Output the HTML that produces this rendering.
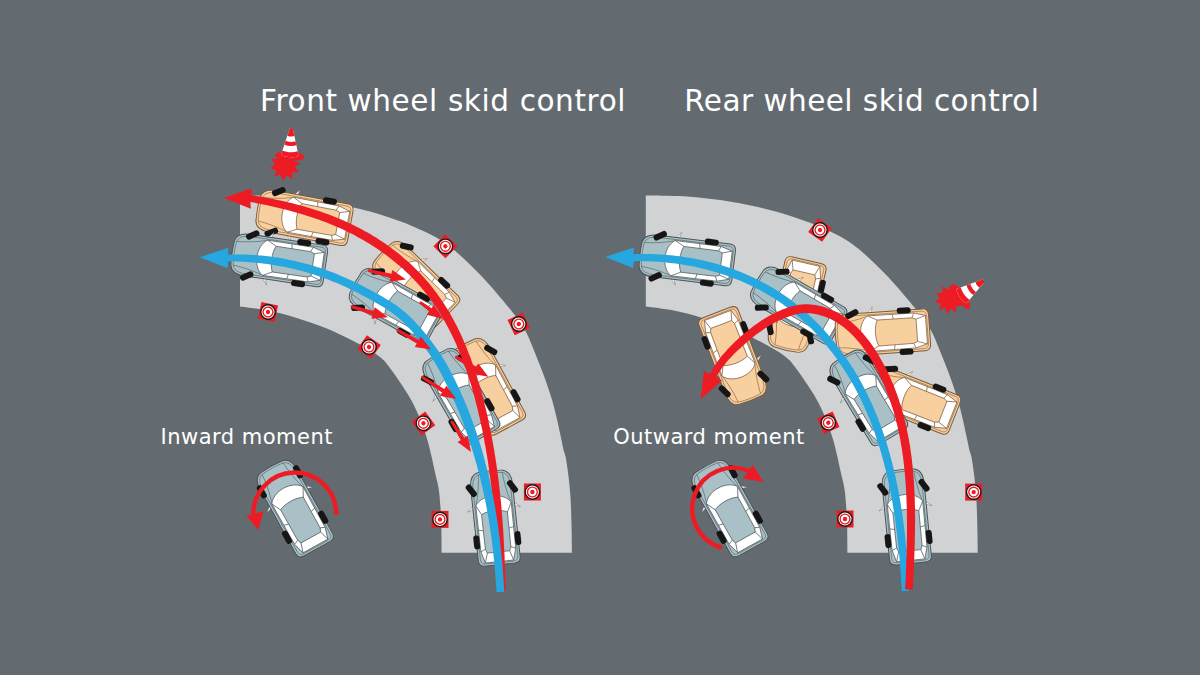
<!DOCTYPE html>
<html lang="en"><head><meta charset="utf-8"><title>Skid control</title>
<style>
html,body{margin:0;padding:0}
body{width:1200px;height:675px;background:#646b70;position:relative;overflow:hidden;font-family:"DejaVu Sans", "Liberation Sans", sans-serif;color:#fff}
svg{position:absolute;left:0;top:0}
.t{position:absolute;white-space:nowrap;line-height:1}
.h{font-size:29.5px}
.l{font-size:21px}
</style></head><body>
<svg width="1200" height="675" viewBox="0 0 1200 675"><path d="M240.0 195.4 C243.7 195.4 254.7 195.5 262.0 195.7 C269.3 195.9 276.0 196.1 284.0 196.7 C292.0 197.3 301.7 198.4 310.0 199.5 C318.3 200.6 325.7 201.7 334.0 203.3 C342.3 204.9 351.7 206.9 360.0 209.0 C368.3 211.1 375.2 212.9 384.0 215.8 C392.8 218.7 402.4 221.8 412.6 226.3 C422.8 230.8 434.1 235.3 445.0 243.0 C455.9 250.7 467.2 261.5 478.0 272.5 C488.8 283.5 502.2 299.4 510.0 309.0 C517.8 318.6 521.1 323.5 524.9 330.0 C528.7 336.5 530.4 341.9 532.9 347.8 C535.4 353.7 537.7 359.7 540.0 365.6 C542.3 371.5 544.5 377.4 546.6 383.3 C548.7 389.2 550.7 395.2 552.4 401.1 C554.1 407.0 555.5 413.0 556.9 418.9 C558.3 424.8 559.7 431.5 560.8 436.7 C561.9 441.9 562.8 446.5 563.6 450.0 C564.4 453.5 565.0 453.5 565.8 457.8 C566.6 462.1 567.7 469.7 568.4 475.6 C569.1 481.5 569.8 487.4 570.2 493.3 C570.7 499.2 570.9 505.2 571.1 511.1 C571.3 517.0 571.5 522.0 571.6 528.9 C571.8 535.8 571.9 548.8 572.0 552.8 L441.6 552.8 C441.6 548.2 441.5 532.9 441.3 525.0 C441.1 517.1 440.8 511.8 440.3 505.6 C439.8 499.4 439.5 493.7 438.5 487.8 C437.5 481.9 435.6 475.2 434.5 470.0 C433.4 464.8 432.8 461.9 431.6 456.7 C430.4 451.5 428.9 444.8 427.1 438.9 C425.3 433.0 423.3 427.0 420.9 421.1 C418.5 415.2 416.0 409.2 412.9 403.3 C409.8 397.4 406.0 391.5 402.2 385.6 C398.4 379.7 393.5 372.6 389.8 367.8 C386.1 363.0 385.0 360.9 380.0 357.0 C375.0 353.1 368.7 349.2 360.0 344.5 C351.3 339.8 338.8 333.5 328.0 329.0 C317.2 324.5 305.0 320.6 295.0 317.5 C285.0 314.4 277.2 312.3 268.0 310.5 C258.8 308.7 244.7 307.2 240.0 306.5Z" fill="#d1d2d4"/>
<path d="M645.8 195.4 C649.5 195.4 660.5 195.5 667.8 195.7 C675.1 195.9 681.8 196.1 689.8 196.7 C697.8 197.3 707.5 198.4 715.8 199.5 C724.1 200.6 731.5 201.7 739.8 203.3 C748.1 204.9 757.5 206.9 765.8 209.0 C774.1 211.1 781.0 212.9 789.8 215.8 C798.6 218.7 808.2 221.8 818.4 226.3 C828.6 230.8 839.9 235.3 850.8 243.0 C861.7 250.7 873.0 261.5 883.8 272.5 C894.6 283.5 908.0 299.4 915.8 309.0 C923.6 318.6 926.9 323.5 930.7 330.0 C934.5 336.5 936.2 341.9 938.7 347.8 C941.2 353.7 943.5 359.7 945.8 365.6 C948.1 371.5 950.3 377.4 952.4 383.3 C954.5 389.2 956.5 395.2 958.2 401.1 C959.9 407.0 961.3 413.0 962.7 418.9 C964.1 424.8 965.5 431.5 966.6 436.7 C967.7 441.9 968.6 446.5 969.4 450.0 C970.2 453.5 970.8 453.5 971.6 457.8 C972.4 462.1 973.5 469.7 974.2 475.6 C974.9 481.5 975.5 487.4 976.0 493.3 C976.5 499.2 976.7 505.2 976.9 511.1 C977.1 517.0 977.3 522.0 977.4 528.9 C977.6 535.8 977.7 548.8 977.8 552.8 L847.4 552.8 C847.4 548.2 847.3 532.9 847.1 525.0 C846.9 517.1 846.6 511.8 846.1 505.6 C845.6 499.4 845.3 493.7 844.3 487.8 C843.3 481.9 841.4 475.2 840.3 470.0 C839.1 464.8 838.6 461.9 837.4 456.7 C836.2 451.5 834.7 444.8 832.9 438.9 C831.1 433.0 829.1 427.0 826.7 421.1 C824.3 415.2 821.8 409.2 818.7 403.3 C815.6 397.4 811.9 391.5 808.0 385.6 C804.1 379.7 799.3 372.6 795.6 367.8 C791.9 363.0 790.8 360.9 785.8 357.0 C780.8 353.1 774.5 349.2 765.8 344.5 C757.1 339.8 744.6 333.5 733.8 329.0 C723.0 324.5 710.8 320.6 700.8 317.5 C690.8 314.4 683.0 312.3 673.8 310.5 C664.6 308.7 650.5 307.2 645.8 306.5Z" fill="#d1d2d4"/>
<g transform="translate(268.0 312.0) rotate(12.0)"><rect x="-8.5" y="-8.5" width="17" height="17" fill="#ec1c24"/><circle r="7.9" fill="#1a1a1a"/><circle r="6.5" fill="#fff"/><circle r="4.9" fill="none" stroke="#ec1c24" stroke-width="1.4"/><circle r="2.2" fill="#ec1c24"/></g>
<g transform="translate(369.0 347.0) rotate(35.0)"><rect x="-8.5" y="-8.5" width="17" height="17" fill="#ec1c24"/><circle r="7.9" fill="#1a1a1a"/><circle r="6.5" fill="#fff"/><circle r="4.9" fill="none" stroke="#ec1c24" stroke-width="1.4"/><circle r="2.2" fill="#ec1c24"/></g>
<g transform="translate(423.4 423.3) rotate(-36.0)"><rect x="-8.5" y="-8.5" width="17" height="17" fill="#ec1c24"/><circle r="7.9" fill="#1a1a1a"/><circle r="6.5" fill="#fff"/><circle r="4.9" fill="none" stroke="#ec1c24" stroke-width="1.4"/><circle r="2.2" fill="#ec1c24"/></g>
<g transform="translate(440.0 519.4) rotate(0.0)"><rect x="-8.5" y="-8.5" width="17" height="17" fill="#ec1c24"/><circle r="7.9" fill="#1a1a1a"/><circle r="6.5" fill="#fff"/><circle r="4.9" fill="none" stroke="#ec1c24" stroke-width="1.4"/><circle r="2.2" fill="#ec1c24"/></g>
<g transform="translate(445.4 246.3) rotate(45.0)"><rect x="-8.5" y="-8.5" width="17" height="17" fill="#ec1c24"/><circle r="7.9" fill="#1a1a1a"/><circle r="6.5" fill="#fff"/><circle r="4.9" fill="none" stroke="#ec1c24" stroke-width="1.4"/><circle r="2.2" fill="#ec1c24"/></g>
<g transform="translate(518.8 324.0) rotate(-25.0)"><rect x="-8.5" y="-8.5" width="17" height="17" fill="#ec1c24"/><circle r="7.9" fill="#1a1a1a"/><circle r="6.5" fill="#fff"/><circle r="4.9" fill="none" stroke="#ec1c24" stroke-width="1.4"/><circle r="2.2" fill="#ec1c24"/></g>
<g transform="translate(532.4 492.0) rotate(0.0)"><rect x="-8.5" y="-8.5" width="17" height="17" fill="#ec1c24"/><circle r="7.9" fill="#1a1a1a"/><circle r="6.5" fill="#fff"/><circle r="4.9" fill="none" stroke="#ec1c24" stroke-width="1.4"/><circle r="2.2" fill="#ec1c24"/></g>
<g transform="translate(820.0 230.0) rotate(35.0)"><rect x="-8.5" y="-8.5" width="17" height="17" fill="#ec1c24"/><circle r="7.9" fill="#1a1a1a"/><circle r="6.5" fill="#fff"/><circle r="4.9" fill="none" stroke="#ec1c24" stroke-width="1.4"/><circle r="2.2" fill="#ec1c24"/></g>
<g transform="translate(828.3 422.7) rotate(-24.0)"><rect x="-8.5" y="-8.5" width="17" height="17" fill="#ec1c24"/><circle r="7.9" fill="#1a1a1a"/><circle r="6.5" fill="#fff"/><circle r="4.9" fill="none" stroke="#ec1c24" stroke-width="1.4"/><circle r="2.2" fill="#ec1c24"/></g>
<g transform="translate(845.0 519.0) rotate(0.0)"><rect x="-8.5" y="-8.5" width="17" height="17" fill="#ec1c24"/><circle r="7.9" fill="#1a1a1a"/><circle r="6.5" fill="#fff"/><circle r="4.9" fill="none" stroke="#ec1c24" stroke-width="1.4"/><circle r="2.2" fill="#ec1c24"/></g>
<g transform="translate(973.7 492.1) rotate(0.0)"><rect x="-8.5" y="-8.5" width="17" height="17" fill="#ec1c24"/><circle r="7.9" fill="#1a1a1a"/><circle r="6.5" fill="#fff"/><circle r="4.9" fill="none" stroke="#ec1c24" stroke-width="1.4"/><circle r="2.2" fill="#ec1c24"/></g>
<polygon points="287.3,150.3 289.5,156.6 295.9,154.5 293.9,160.9 300.4,162.9 295.0,167.0 299.0,172.4 292.3,172.5 292.4,179.3 286.8,175.4 282.9,180.9 280.7,174.6 274.3,176.7 276.3,170.3 269.8,168.3 275.2,164.2 271.2,158.8 277.9,158.7 277.8,151.9 283.4,155.8" fill="#ed1c24"/>
<g transform="translate(289.8 155.3) rotate(3.2)"><ellipse cx="0" cy="0.8" rx="14.8" ry="4.6" fill="#ed1c24"/><path d="M-1.6 -26.5 L1.6 -26.5 L8.8 0 C5 2.6 -5 2.6 -8.8 0Z" fill="#fff"/><path d="M-1.6 -26.5 C-0.5 -27.3 0.5 -27.3 1.6 -26.5 L3.5 -19.5 C1.2 -18.6 -1.2 -18.6 -3.5 -19.5Z" fill="#ed1c24"/><path d="M-4.9 -14.3 C-2 -13.1 2 -13.1 4.9 -14.3 L6 -10.3 C2.5 -8.9 -2.5 -8.9 -6 -10.3Z" fill="#ed1c24"/><path d="M-7.6 -4.4 C-3 -2.6 3 -2.6 7.6 -4.4 L8.8 0 C5 2.6 -5 2.6 -8.8 0Z" fill="#ed1c24"/></g>
<polygon points="951.4,284.6 953.5,290.8 959.6,288.7 957.7,294.8 963.9,296.7 958.7,300.6 962.6,305.8 956.1,305.9 956.2,312.4 950.9,308.7 947.2,314.0 945.1,307.8 939.0,309.9 940.9,303.8 934.7,301.9 939.9,298.0 936.0,292.8 942.5,292.7 942.4,286.2 947.7,289.9" fill="#ed1c24"/>
<g transform="translate(961.5 296.1) rotate(55.0)"><ellipse cx="0" cy="0.8" rx="14.8" ry="4.6" fill="#ed1c24"/><path d="M-1.6 -26.5 L1.6 -26.5 L8.8 0 C5 2.6 -5 2.6 -8.8 0Z" fill="#fff"/><path d="M-1.6 -26.5 C-0.5 -27.3 0.5 -27.3 1.6 -26.5 L3.5 -19.5 C1.2 -18.6 -1.2 -18.6 -3.5 -19.5Z" fill="#ed1c24"/><path d="M-4.9 -14.3 C-2 -13.1 2 -13.1 4.9 -14.3 L6 -10.3 C2.5 -8.9 -2.5 -8.9 -6 -10.3Z" fill="#ed1c24"/><path d="M-7.6 -4.4 C-3 -2.6 3 -2.6 7.6 -4.4 L8.8 0 C5 2.6 -5 2.6 -8.8 0Z" fill="#ed1c24"/></g>
<g transform="translate(302.6 217.0) rotate(-79.5) scale(1.000)"><g transform="translate(0 48.50) scale(1 0.9843) translate(0 -50)"><path d="M-19.5 -12.5 L-26.5 -6.5 L-20 -8.5Z M19.5 -12.5 L26.5 -6.5 L20 -8.5Z" fill="#fff" stroke="#7a5a3a" stroke-width="0.4"/><path d="M-12.5 -45.2 C-18 -44 -21 -39 -21 -30 L-21 44 C-21 48 -18.5 50 -14.5 50 L14.5 50 C18.5 50 21 48 21 44 L21 -30 C21 -39 18 -44 12.5 -45.2 C4 -46.2 -4 -46.2 -12.5 -45.2Z" fill="#f8cf9f" stroke="#7a5a3a" stroke-width="1"/><path d="M-11.5 -43 C-16.5 -41.8 -18.8 -37.5 -18.8 -29.5 L-18.8 43 C-18.8 46.5 -17 47.9 -13.5 47.9 L13.5 47.9 C17 47.9 18.8 46.5 18.8 43 L18.8 -29.5 C18.8 -37.5 16.5 -41.8 11.5 -43 C4 -44 -4 -44 -11.5 -43Z" fill="none" stroke="#7a5a3a" stroke-width="0.55"/><path d="M-17.8 -12 C-11 -23 11 -23 17.8 -12 L17.5 35 L14.2 46.8 L-14.2 46.8 L-17.5 35Z" fill="#fff" stroke="#7a5a3a" stroke-width="0.7"/><path d="M-13 -2.5 C-6 -6 6 -6 13 -2.5 L12.8 33 L11.2 37 L-11.2 37 L-12.8 33Z" fill="#f8cf9f" stroke="#7a5a3a" stroke-width="0.7"/><path d="M-17.8 -12 L-13 -2.5 M17.8 -12 L13 -2.5 M-17.5 35 L-12.8 33 M17.5 35 L12.8 33 M-17.6 13 L-13 14 M17.6 13 L13 14 M-14.2 46.8 L-11.2 37 M14.2 46.8 L11.2 37" stroke="#7a5a3a" stroke-width="0.7" fill="none"/><path d="M-12 -43 C-12.5 -34 -14.5 -22 -17.3 -13 M12 -43 C12.5 -34 14.5 -22 17.3 -13" stroke="#7a5a3a" stroke-width="0.55" fill="none"/></g><rect x="-3" y="-7" width="6" height="14" rx="2.7" fill="#161616" transform="translate(-20.7 -28.0) rotate(-32.0)"/><rect x="-3" y="-7" width="6" height="14" rx="2.7" fill="#161616" transform="translate(20.7 -28.0) rotate(-32.0)"/><rect x="-3" y="-7" width="6" height="14" rx="2.7" fill="#161616" transform="translate(-20.7 24.0) rotate(0.0)"/><rect x="-3" y="-7" width="6" height="14" rx="2.7" fill="#161616" transform="translate(20.7 24.0) rotate(0.0)"/></g>
<g transform="translate(277.4 259.6) rotate(-81.5) scale(1.000)"><g transform="translate(0 48.50) scale(1 0.9843) translate(0 -50)"><path d="M-19.5 -12.5 L-26.5 -6.5 L-20 -8.5Z M19.5 -12.5 L26.5 -6.5 L20 -8.5Z" fill="#fff" stroke="#4b5357" stroke-width="0.4"/><path d="M-12.5 -45.2 C-18 -44 -21 -39 -21 -30 L-21 44 C-21 48 -18.5 50 -14.5 50 L14.5 50 C18.5 50 21 48 21 44 L21 -30 C21 -39 18 -44 12.5 -45.2 C4 -46.2 -4 -46.2 -12.5 -45.2Z" fill="#a9c1c6" stroke="#4b5357" stroke-width="1"/><path d="M-11.5 -43 C-16.5 -41.8 -18.8 -37.5 -18.8 -29.5 L-18.8 43 C-18.8 46.5 -17 47.9 -13.5 47.9 L13.5 47.9 C17 47.9 18.8 46.5 18.8 43 L18.8 -29.5 C18.8 -37.5 16.5 -41.8 11.5 -43 C4 -44 -4 -44 -11.5 -43Z" fill="none" stroke="#4b5357" stroke-width="0.55"/><path d="M-17.8 -12 C-11 -23 11 -23 17.8 -12 L17.5 35 L14.2 46.8 L-14.2 46.8 L-17.5 35Z" fill="#fff" stroke="#4b5357" stroke-width="0.7"/><path d="M-13 -2.5 C-6 -6 6 -6 13 -2.5 L12.8 33 L11.2 37 L-11.2 37 L-12.8 33Z" fill="#a9c1c6" stroke="#4b5357" stroke-width="0.7"/><path d="M-17.8 -12 L-13 -2.5 M17.8 -12 L13 -2.5 M-17.5 35 L-12.8 33 M17.5 35 L12.8 33 M-17.6 13 L-13 14 M17.6 13 L13 14 M-14.2 46.8 L-11.2 37 M14.2 46.8 L11.2 37" stroke="#4b5357" stroke-width="0.7" fill="none"/><path d="M-12 -43 C-12.5 -34 -14.5 -22 -17.3 -13 M12 -43 C12.5 -34 14.5 -22 17.3 -13" stroke="#4b5357" stroke-width="0.55" fill="none"/></g><rect x="-3" y="-7" width="6" height="14" rx="2.7" fill="#161616" transform="translate(-20.7 -28.0) rotate(-32.0)"/><rect x="-3" y="-7" width="6" height="14" rx="2.7" fill="#161616" transform="translate(20.7 -28.0) rotate(-32.0)"/><rect x="-3" y="-7" width="6" height="14" rx="2.7" fill="#161616" transform="translate(-20.7 24.0) rotate(0.0)"/><rect x="-3" y="-7" width="6" height="14" rx="2.7" fill="#161616" transform="translate(20.7 24.0) rotate(0.0)"/></g>
<g transform="translate(412.5 281.0) rotate(-46.0) scale(1.000)"><g transform="translate(0 48.50) scale(1 0.9424) translate(0 -50)"><path d="M-19.5 -12.5 L-26.5 -6.5 L-20 -8.5Z M19.5 -12.5 L26.5 -6.5 L20 -8.5Z" fill="#fff" stroke="#7a5a3a" stroke-width="0.4"/><path d="M-12.5 -45.2 C-18 -44 -21 -39 -21 -30 L-21 44 C-21 48 -18.5 50 -14.5 50 L14.5 50 C18.5 50 21 48 21 44 L21 -30 C21 -39 18 -44 12.5 -45.2 C4 -46.2 -4 -46.2 -12.5 -45.2Z" fill="#f8cf9f" stroke="#7a5a3a" stroke-width="1"/><path d="M-11.5 -43 C-16.5 -41.8 -18.8 -37.5 -18.8 -29.5 L-18.8 43 C-18.8 46.5 -17 47.9 -13.5 47.9 L13.5 47.9 C17 47.9 18.8 46.5 18.8 43 L18.8 -29.5 C18.8 -37.5 16.5 -41.8 11.5 -43 C4 -44 -4 -44 -11.5 -43Z" fill="none" stroke="#7a5a3a" stroke-width="0.55"/><path d="M-17.8 -12 C-11 -23 11 -23 17.8 -12 L17.5 35 L14.2 46.8 L-14.2 46.8 L-17.5 35Z" fill="#fff" stroke="#7a5a3a" stroke-width="0.7"/><path d="M-13 -2.5 C-6 -6 6 -6 13 -2.5 L12.8 33 L11.2 37 L-11.2 37 L-12.8 33Z" fill="#f8cf9f" stroke="#7a5a3a" stroke-width="0.7"/><path d="M-17.8 -12 L-13 -2.5 M17.8 -12 L13 -2.5 M-17.5 35 L-12.8 33 M17.5 35 L12.8 33 M-17.6 13 L-13 14 M17.6 13 L13 14 M-14.2 46.8 L-11.2 37 M14.2 46.8 L11.2 37" stroke="#7a5a3a" stroke-width="0.7" fill="none"/><path d="M-12 -43 C-12.5 -34 -14.5 -22 -17.3 -13 M12 -43 C12.5 -34 14.5 -22 17.3 -13" stroke="#7a5a3a" stroke-width="0.55" fill="none"/></g><rect x="-3" y="-7" width="6" height="14" rx="2.7" fill="#161616" transform="translate(-20.7 -28.0) rotate(-32.0)"/><rect x="-3" y="-7" width="6" height="14" rx="2.7" fill="#161616" transform="translate(20.7 -28.0) rotate(-32.0)"/><rect x="-3" y="-7" width="6" height="14" rx="2.7" fill="#161616" transform="translate(-20.7 24.0) rotate(0.0)"/><rect x="-3" y="-7" width="6" height="14" rx="2.7" fill="#161616" transform="translate(20.7 24.0) rotate(0.0)"/></g>
<g transform="translate(392.6 303.2) rotate(-61.0) scale(1.000)"><g transform="translate(0 48.50) scale(1 0.9529) translate(0 -50)"><path d="M-19.5 -12.5 L-26.5 -6.5 L-20 -8.5Z M19.5 -12.5 L26.5 -6.5 L20 -8.5Z" fill="#fff" stroke="#4b5357" stroke-width="0.4"/><path d="M-12.5 -45.2 C-18 -44 -21 -39 -21 -30 L-21 44 C-21 48 -18.5 50 -14.5 50 L14.5 50 C18.5 50 21 48 21 44 L21 -30 C21 -39 18 -44 12.5 -45.2 C4 -46.2 -4 -46.2 -12.5 -45.2Z" fill="#a9c1c6" stroke="#4b5357" stroke-width="1"/><path d="M-11.5 -43 C-16.5 -41.8 -18.8 -37.5 -18.8 -29.5 L-18.8 43 C-18.8 46.5 -17 47.9 -13.5 47.9 L13.5 47.9 C17 47.9 18.8 46.5 18.8 43 L18.8 -29.5 C18.8 -37.5 16.5 -41.8 11.5 -43 C4 -44 -4 -44 -11.5 -43Z" fill="none" stroke="#4b5357" stroke-width="0.55"/><path d="M-17.8 -12 C-11 -23 11 -23 17.8 -12 L17.5 35 L14.2 46.8 L-14.2 46.8 L-17.5 35Z" fill="#fff" stroke="#4b5357" stroke-width="0.7"/><path d="M-13 -2.5 C-6 -6 6 -6 13 -2.5 L12.8 33 L11.2 37 L-11.2 37 L-12.8 33Z" fill="#a9c1c6" stroke="#4b5357" stroke-width="0.7"/><path d="M-17.8 -12 L-13 -2.5 M17.8 -12 L13 -2.5 M-17.5 35 L-12.8 33 M17.5 35 L12.8 33 M-17.6 13 L-13 14 M17.6 13 L13 14 M-14.2 46.8 L-11.2 37 M14.2 46.8 L11.2 37" stroke="#4b5357" stroke-width="0.7" fill="none"/><path d="M-12 -43 C-12.5 -34 -14.5 -22 -17.3 -13 M12 -43 C12.5 -34 14.5 -22 17.3 -13" stroke="#4b5357" stroke-width="0.55" fill="none"/></g><rect x="-3" y="-7" width="6" height="14" rx="2.7" fill="#161616" transform="translate(-20.7 -28.0) rotate(-32.0)"/><rect x="-3" y="-7" width="6" height="14" rx="2.7" fill="#161616" transform="translate(20.7 -28.0) rotate(-32.0)"/><rect x="-3" y="-7" width="6" height="14" rx="2.7" fill="#161616" transform="translate(-20.7 24.0) rotate(0.0)"/><rect x="-3" y="-7" width="6" height="14" rx="2.7" fill="#161616" transform="translate(20.7 24.0) rotate(0.0)"/></g>
<g transform="translate(485.9 384.5) rotate(-28.5) scale(1.000)"><g transform="translate(0 48.50) scale(1 0.9843) translate(0 -50)"><path d="M-19.5 -12.5 L-26.5 -6.5 L-20 -8.5Z M19.5 -12.5 L26.5 -6.5 L20 -8.5Z" fill="#fff" stroke="#7a5a3a" stroke-width="0.4"/><path d="M-12.5 -45.2 C-18 -44 -21 -39 -21 -30 L-21 44 C-21 48 -18.5 50 -14.5 50 L14.5 50 C18.5 50 21 48 21 44 L21 -30 C21 -39 18 -44 12.5 -45.2 C4 -46.2 -4 -46.2 -12.5 -45.2Z" fill="#f8cf9f" stroke="#7a5a3a" stroke-width="1"/><path d="M-11.5 -43 C-16.5 -41.8 -18.8 -37.5 -18.8 -29.5 L-18.8 43 C-18.8 46.5 -17 47.9 -13.5 47.9 L13.5 47.9 C17 47.9 18.8 46.5 18.8 43 L18.8 -29.5 C18.8 -37.5 16.5 -41.8 11.5 -43 C4 -44 -4 -44 -11.5 -43Z" fill="none" stroke="#7a5a3a" stroke-width="0.55"/><path d="M-17.8 -12 C-11 -23 11 -23 17.8 -12 L17.5 35 L14.2 46.8 L-14.2 46.8 L-17.5 35Z" fill="#fff" stroke="#7a5a3a" stroke-width="0.7"/><path d="M-13 -2.5 C-6 -6 6 -6 13 -2.5 L12.8 33 L11.2 37 L-11.2 37 L-12.8 33Z" fill="#f8cf9f" stroke="#7a5a3a" stroke-width="0.7"/><path d="M-17.8 -12 L-13 -2.5 M17.8 -12 L13 -2.5 M-17.5 35 L-12.8 33 M17.5 35 L12.8 33 M-17.6 13 L-13 14 M17.6 13 L13 14 M-14.2 46.8 L-11.2 37 M14.2 46.8 L11.2 37" stroke="#7a5a3a" stroke-width="0.7" fill="none"/><path d="M-12 -43 C-12.5 -34 -14.5 -22 -17.3 -13 M12 -43 C12.5 -34 14.5 -22 17.3 -13" stroke="#7a5a3a" stroke-width="0.55" fill="none"/></g><rect x="-3" y="-7" width="6" height="14" rx="2.7" fill="#161616" transform="translate(-20.7 -28.0) rotate(-32.0)"/><rect x="-3" y="-7" width="6" height="14" rx="2.7" fill="#161616" transform="translate(20.7 -28.0) rotate(-32.0)"/><rect x="-3" y="-7" width="6" height="14" rx="2.7" fill="#161616" transform="translate(-20.7 24.0) rotate(0.0)"/><rect x="-3" y="-7" width="6" height="14" rx="2.7" fill="#161616" transform="translate(20.7 24.0) rotate(0.0)"/></g>
<g transform="translate(459.5 394.3) rotate(-30.0) scale(1.000)"><g transform="translate(0 48.50) scale(1 0.9843) translate(0 -50)"><path d="M-19.5 -12.5 L-26.5 -6.5 L-20 -8.5Z M19.5 -12.5 L26.5 -6.5 L20 -8.5Z" fill="#fff" stroke="#4b5357" stroke-width="0.4"/><path d="M-12.5 -45.2 C-18 -44 -21 -39 -21 -30 L-21 44 C-21 48 -18.5 50 -14.5 50 L14.5 50 C18.5 50 21 48 21 44 L21 -30 C21 -39 18 -44 12.5 -45.2 C4 -46.2 -4 -46.2 -12.5 -45.2Z" fill="#a9c1c6" stroke="#4b5357" stroke-width="1"/><path d="M-11.5 -43 C-16.5 -41.8 -18.8 -37.5 -18.8 -29.5 L-18.8 43 C-18.8 46.5 -17 47.9 -13.5 47.9 L13.5 47.9 C17 47.9 18.8 46.5 18.8 43 L18.8 -29.5 C18.8 -37.5 16.5 -41.8 11.5 -43 C4 -44 -4 -44 -11.5 -43Z" fill="none" stroke="#4b5357" stroke-width="0.55"/><path d="M-17.8 -12 C-11 -23 11 -23 17.8 -12 L17.5 35 L14.2 46.8 L-14.2 46.8 L-17.5 35Z" fill="#fff" stroke="#4b5357" stroke-width="0.7"/><path d="M-13 -2.5 C-6 -6 6 -6 13 -2.5 L12.8 33 L11.2 37 L-11.2 37 L-12.8 33Z" fill="#a9c1c6" stroke="#4b5357" stroke-width="0.7"/><path d="M-17.8 -12 L-13 -2.5 M17.8 -12 L13 -2.5 M-17.5 35 L-12.8 33 M17.5 35 L12.8 33 M-17.6 13 L-13 14 M17.6 13 L13 14 M-14.2 46.8 L-11.2 37 M14.2 46.8 L11.2 37" stroke="#4b5357" stroke-width="0.7" fill="none"/><path d="M-12 -43 C-12.5 -34 -14.5 -22 -17.3 -13 M12 -43 C12.5 -34 14.5 -22 17.3 -13" stroke="#4b5357" stroke-width="0.55" fill="none"/></g><rect x="-3" y="-7" width="6" height="14" rx="2.7" fill="#161616" transform="translate(-20.7 -28.0) rotate(-32.0)"/><rect x="-3" y="-7" width="6" height="14" rx="2.7" fill="#161616" transform="translate(20.7 -28.0) rotate(-32.0)"/><rect x="-3" y="-7" width="6" height="14" rx="2.7" fill="#161616" transform="translate(-20.7 24.0) rotate(0.0)"/><rect x="-3" y="-7" width="6" height="14" rx="2.7" fill="#161616" transform="translate(20.7 24.0) rotate(0.0)"/></g>
<g transform="translate(494.8 516.4) rotate(-6.0) scale(1.000)"><g transform="translate(0 48.50) scale(1 0.9843) translate(0 -50)"><path d="M-19.5 -12.5 L-26.5 -6.5 L-20 -8.5Z M19.5 -12.5 L26.5 -6.5 L20 -8.5Z" fill="#fff" stroke="#4b5357" stroke-width="0.4"/><path d="M-12.5 -45.2 C-18 -44 -21 -39 -21 -30 L-21 44 C-21 48 -18.5 50 -14.5 50 L14.5 50 C18.5 50 21 48 21 44 L21 -30 C21 -39 18 -44 12.5 -45.2 C4 -46.2 -4 -46.2 -12.5 -45.2Z" fill="#a9c1c6" stroke="#4b5357" stroke-width="1"/><path d="M-11.5 -43 C-16.5 -41.8 -18.8 -37.5 -18.8 -29.5 L-18.8 43 C-18.8 46.5 -17 47.9 -13.5 47.9 L13.5 47.9 C17 47.9 18.8 46.5 18.8 43 L18.8 -29.5 C18.8 -37.5 16.5 -41.8 11.5 -43 C4 -44 -4 -44 -11.5 -43Z" fill="none" stroke="#4b5357" stroke-width="0.55"/><path d="M-17.8 -12 C-11 -23 11 -23 17.8 -12 L17.5 35 L14.2 46.8 L-14.2 46.8 L-17.5 35Z" fill="#fff" stroke="#4b5357" stroke-width="0.7"/><path d="M-13 -2.5 C-6 -6 6 -6 13 -2.5 L12.8 33 L11.2 37 L-11.2 37 L-12.8 33Z" fill="#a9c1c6" stroke="#4b5357" stroke-width="0.7"/><path d="M-17.8 -12 L-13 -2.5 M17.8 -12 L13 -2.5 M-17.5 35 L-12.8 33 M17.5 35 L12.8 33 M-17.6 13 L-13 14 M17.6 13 L13 14 M-14.2 46.8 L-11.2 37 M14.2 46.8 L11.2 37" stroke="#4b5357" stroke-width="0.7" fill="none"/><path d="M-12 -43 C-12.5 -34 -14.5 -22 -17.3 -13 M12 -43 C12.5 -34 14.5 -22 17.3 -13" stroke="#4b5357" stroke-width="0.55" fill="none"/></g><rect x="-3" y="-7" width="6" height="14" rx="2.7" fill="#161616" transform="translate(-20.7 -28.0) rotate(-32.0)"/><rect x="-3" y="-7" width="6" height="14" rx="2.7" fill="#161616" transform="translate(20.7 -28.0) rotate(-32.0)"/><rect x="-3" y="-7" width="6" height="14" rx="2.7" fill="#161616" transform="translate(-20.7 24.0) rotate(0.0)"/><rect x="-3" y="-7" width="6" height="14" rx="2.7" fill="#161616" transform="translate(20.7 24.0) rotate(0.0)"/></g>
<g transform="translate(685.5 259.7) rotate(-83.0) scale(1.000)"><g transform="translate(0 48.50) scale(1 0.9843) translate(0 -50)"><path d="M-19.5 -12.5 L-26.5 -6.5 L-20 -8.5Z M19.5 -12.5 L26.5 -6.5 L20 -8.5Z" fill="#fff" stroke="#4b5357" stroke-width="0.4"/><path d="M-12.5 -45.2 C-18 -44 -21 -39 -21 -30 L-21 44 C-21 48 -18.5 50 -14.5 50 L14.5 50 C18.5 50 21 48 21 44 L21 -30 C21 -39 18 -44 12.5 -45.2 C4 -46.2 -4 -46.2 -12.5 -45.2Z" fill="#a9c1c6" stroke="#4b5357" stroke-width="1"/><path d="M-11.5 -43 C-16.5 -41.8 -18.8 -37.5 -18.8 -29.5 L-18.8 43 C-18.8 46.5 -17 47.9 -13.5 47.9 L13.5 47.9 C17 47.9 18.8 46.5 18.8 43 L18.8 -29.5 C18.8 -37.5 16.5 -41.8 11.5 -43 C4 -44 -4 -44 -11.5 -43Z" fill="none" stroke="#4b5357" stroke-width="0.55"/><path d="M-17.8 -12 C-11 -23 11 -23 17.8 -12 L17.5 35 L14.2 46.8 L-14.2 46.8 L-17.5 35Z" fill="#fff" stroke="#4b5357" stroke-width="0.7"/><path d="M-13 -2.5 C-6 -6 6 -6 13 -2.5 L12.8 33 L11.2 37 L-11.2 37 L-12.8 33Z" fill="#a9c1c6" stroke="#4b5357" stroke-width="0.7"/><path d="M-17.8 -12 L-13 -2.5 M17.8 -12 L13 -2.5 M-17.5 35 L-12.8 33 M17.5 35 L12.8 33 M-17.6 13 L-13 14 M17.6 13 L13 14 M-14.2 46.8 L-11.2 37 M14.2 46.8 L11.2 37" stroke="#4b5357" stroke-width="0.7" fill="none"/><path d="M-12 -43 C-12.5 -34 -14.5 -22 -17.3 -13 M12 -43 C12.5 -34 14.5 -22 17.3 -13" stroke="#4b5357" stroke-width="0.55" fill="none"/></g><rect x="-3" y="-7" width="6" height="14" rx="2.7" fill="#161616" transform="translate(-20.7 -28.0) rotate(-32.0)"/><rect x="-3" y="-7" width="6" height="14" rx="2.7" fill="#161616" transform="translate(20.7 -28.0) rotate(-32.0)"/><rect x="-3" y="-7" width="6" height="14" rx="2.7" fill="#161616" transform="translate(-20.7 24.0) rotate(0.0)"/><rect x="-3" y="-7" width="6" height="14" rx="2.7" fill="#161616" transform="translate(20.7 24.0) rotate(0.0)"/></g>
<g transform="translate(796.3 305.5) rotate(-167.0) scale(1.000)"><g transform="translate(0 46.50) scale(1 0.9634) translate(0 -50)"><path d="M-19.5 -12.5 L-26.5 -6.5 L-20 -8.5Z M19.5 -12.5 L26.5 -6.5 L20 -8.5Z" fill="#fff" stroke="#7a5a3a" stroke-width="0.4"/><path d="M-12.5 -45.2 C-18 -44 -21 -39 -21 -30 L-21 44 C-21 48 -18.5 50 -14.5 50 L14.5 50 C18.5 50 21 48 21 44 L21 -30 C21 -39 18 -44 12.5 -45.2 C4 -46.2 -4 -46.2 -12.5 -45.2Z" fill="#f8cf9f" stroke="#7a5a3a" stroke-width="1"/><path d="M-11.5 -43 C-16.5 -41.8 -18.8 -37.5 -18.8 -29.5 L-18.8 43 C-18.8 46.5 -17 47.9 -13.5 47.9 L13.5 47.9 C17 47.9 18.8 46.5 18.8 43 L18.8 -29.5 C18.8 -37.5 16.5 -41.8 11.5 -43 C4 -44 -4 -44 -11.5 -43Z" fill="none" stroke="#7a5a3a" stroke-width="0.55"/><path d="M-17.8 -12 C-11 -23 11 -23 17.8 -12 L17.5 35 L14.2 46.8 L-14.2 46.8 L-17.5 35Z" fill="#fff" stroke="#7a5a3a" stroke-width="0.7"/><path d="M-13 -2.5 C-6 -6 6 -6 13 -2.5 L12.8 33 L11.2 37 L-11.2 37 L-12.8 33Z" fill="#f8cf9f" stroke="#7a5a3a" stroke-width="0.7"/><path d="M-17.8 -12 L-13 -2.5 M17.8 -12 L13 -2.5 M-17.5 35 L-12.8 33 M17.5 35 L12.8 33 M-17.6 13 L-13 14 M17.6 13 L13 14 M-14.2 46.8 L-11.2 37 M14.2 46.8 L11.2 37" stroke="#7a5a3a" stroke-width="0.7" fill="none"/><path d="M-12 -43 C-12.5 -34 -14.5 -22 -17.3 -13 M12 -43 C12.5 -34 14.5 -22 17.3 -13" stroke="#7a5a3a" stroke-width="0.55" fill="none"/></g><rect x="-3" y="-7" width="6" height="14" rx="2.7" fill="#161616" transform="translate(-20.7 -28.0) rotate(-25.0)"/><rect x="-3" y="-7" width="6" height="14" rx="2.7" fill="#161616" transform="translate(20.7 -28.0) rotate(-25.0)"/><rect x="-3" y="-7" width="6" height="14" rx="2.7" fill="#161616" transform="translate(-20.7 24.0) rotate(0.0)"/><rect x="-3" y="-7" width="6" height="14" rx="2.7" fill="#161616" transform="translate(20.7 24.0) rotate(0.0)"/></g>
<g transform="translate(796.4 303.7) rotate(-60.0) scale(1.000)"><g transform="translate(0 48.50) scale(1 0.9843) translate(0 -50)"><path d="M-19.5 -12.5 L-26.5 -6.5 L-20 -8.5Z M19.5 -12.5 L26.5 -6.5 L20 -8.5Z" fill="#fff" stroke="#4b5357" stroke-width="0.4"/><path d="M-12.5 -45.2 C-18 -44 -21 -39 -21 -30 L-21 44 C-21 48 -18.5 50 -14.5 50 L14.5 50 C18.5 50 21 48 21 44 L21 -30 C21 -39 18 -44 12.5 -45.2 C4 -46.2 -4 -46.2 -12.5 -45.2Z" fill="#a9c1c6" stroke="#4b5357" stroke-width="1"/><path d="M-11.5 -43 C-16.5 -41.8 -18.8 -37.5 -18.8 -29.5 L-18.8 43 C-18.8 46.5 -17 47.9 -13.5 47.9 L13.5 47.9 C17 47.9 18.8 46.5 18.8 43 L18.8 -29.5 C18.8 -37.5 16.5 -41.8 11.5 -43 C4 -44 -4 -44 -11.5 -43Z" fill="none" stroke="#4b5357" stroke-width="0.55"/><path d="M-17.8 -12 C-11 -23 11 -23 17.8 -12 L17.5 35 L14.2 46.8 L-14.2 46.8 L-17.5 35Z" fill="#fff" stroke="#4b5357" stroke-width="0.7"/><path d="M-13 -2.5 C-6 -6 6 -6 13 -2.5 L12.8 33 L11.2 37 L-11.2 37 L-12.8 33Z" fill="#a9c1c6" stroke="#4b5357" stroke-width="0.7"/><path d="M-17.8 -12 L-13 -2.5 M17.8 -12 L13 -2.5 M-17.5 35 L-12.8 33 M17.5 35 L12.8 33 M-17.6 13 L-13 14 M17.6 13 L13 14 M-14.2 46.8 L-11.2 37 M14.2 46.8 L11.2 37" stroke="#4b5357" stroke-width="0.7" fill="none"/><path d="M-12 -43 C-12.5 -34 -14.5 -22 -17.3 -13 M12 -43 C12.5 -34 14.5 -22 17.3 -13" stroke="#4b5357" stroke-width="0.55" fill="none"/></g><rect x="-3" y="-7" width="6" height="14" rx="2.7" fill="#161616" transform="translate(-20.7 -28.0) rotate(-32.0)"/><rect x="-3" y="-7" width="6" height="14" rx="2.7" fill="#161616" transform="translate(20.7 -28.0) rotate(-32.0)"/><rect x="-3" y="-7" width="6" height="14" rx="2.7" fill="#161616" transform="translate(-20.7 24.0) rotate(0.0)"/><rect x="-3" y="-7" width="6" height="14" rx="2.7" fill="#161616" transform="translate(20.7 24.0) rotate(0.0)"/></g>
<g transform="translate(734.0 357.8) rotate(159.0) scale(1.000)"><g transform="translate(0 48.50) scale(1 0.9843) translate(0 -50)"><path d="M-19.5 -12.5 L-26.5 -6.5 L-20 -8.5Z M19.5 -12.5 L26.5 -6.5 L20 -8.5Z" fill="#fff" stroke="#7a5a3a" stroke-width="0.4"/><path d="M-12.5 -45.2 C-18 -44 -21 -39 -21 -30 L-21 44 C-21 48 -18.5 50 -14.5 50 L14.5 50 C18.5 50 21 48 21 44 L21 -30 C21 -39 18 -44 12.5 -45.2 C4 -46.2 -4 -46.2 -12.5 -45.2Z" fill="#f8cf9f" stroke="#7a5a3a" stroke-width="1"/><path d="M-11.5 -43 C-16.5 -41.8 -18.8 -37.5 -18.8 -29.5 L-18.8 43 C-18.8 46.5 -17 47.9 -13.5 47.9 L13.5 47.9 C17 47.9 18.8 46.5 18.8 43 L18.8 -29.5 C18.8 -37.5 16.5 -41.8 11.5 -43 C4 -44 -4 -44 -11.5 -43Z" fill="none" stroke="#7a5a3a" stroke-width="0.55"/><path d="M-17.8 -12 C-11 -23 11 -23 17.8 -12 L17.5 35 L14.2 46.8 L-14.2 46.8 L-17.5 35Z" fill="#fff" stroke="#7a5a3a" stroke-width="0.7"/><path d="M-13 -2.5 C-6 -6 6 -6 13 -2.5 L12.8 33 L11.2 37 L-11.2 37 L-12.8 33Z" fill="#f8cf9f" stroke="#7a5a3a" stroke-width="0.7"/><path d="M-17.8 -12 L-13 -2.5 M17.8 -12 L13 -2.5 M-17.5 35 L-12.8 33 M17.5 35 L12.8 33 M-17.6 13 L-13 14 M17.6 13 L13 14 M-14.2 46.8 L-11.2 37 M14.2 46.8 L11.2 37" stroke="#7a5a3a" stroke-width="0.7" fill="none"/><path d="M-12 -43 C-12.5 -34 -14.5 -22 -17.3 -13 M12 -43 C12.5 -34 14.5 -22 17.3 -13" stroke="#7a5a3a" stroke-width="0.55" fill="none"/></g><rect x="-3" y="-7" width="6" height="14" rx="2.7" fill="#161616" transform="translate(-20.7 -28.0) rotate(-25.0)"/><rect x="-3" y="-7" width="6" height="14" rx="2.7" fill="#161616" transform="translate(20.7 -28.0) rotate(-25.0)"/><rect x="-3" y="-7" width="6" height="14" rx="2.7" fill="#161616" transform="translate(-20.7 24.0) rotate(0.0)"/><rect x="-3" y="-7" width="6" height="14" rx="2.7" fill="#161616" transform="translate(20.7 24.0) rotate(0.0)"/></g>
<g transform="translate(881.2 332.8) rotate(-94.0) scale(1.000)"><g transform="translate(0 48.50) scale(1 0.9843) translate(0 -50)"><path d="M-19.5 -12.5 L-26.5 -6.5 L-20 -8.5Z M19.5 -12.5 L26.5 -6.5 L20 -8.5Z" fill="#fff" stroke="#7a5a3a" stroke-width="0.4"/><path d="M-12.5 -45.2 C-18 -44 -21 -39 -21 -30 L-21 44 C-21 48 -18.5 50 -14.5 50 L14.5 50 C18.5 50 21 48 21 44 L21 -30 C21 -39 18 -44 12.5 -45.2 C4 -46.2 -4 -46.2 -12.5 -45.2Z" fill="#f8cf9f" stroke="#7a5a3a" stroke-width="1"/><path d="M-11.5 -43 C-16.5 -41.8 -18.8 -37.5 -18.8 -29.5 L-18.8 43 C-18.8 46.5 -17 47.9 -13.5 47.9 L13.5 47.9 C17 47.9 18.8 46.5 18.8 43 L18.8 -29.5 C18.8 -37.5 16.5 -41.8 11.5 -43 C4 -44 -4 -44 -11.5 -43Z" fill="none" stroke="#7a5a3a" stroke-width="0.55"/><path d="M-17.8 -12 C-11 -23 11 -23 17.8 -12 L17.5 35 L14.2 46.8 L-14.2 46.8 L-17.5 35Z" fill="#fff" stroke="#7a5a3a" stroke-width="0.7"/><path d="M-13 -2.5 C-6 -6 6 -6 13 -2.5 L12.8 33 L11.2 37 L-11.2 37 L-12.8 33Z" fill="#f8cf9f" stroke="#7a5a3a" stroke-width="0.7"/><path d="M-17.8 -12 L-13 -2.5 M17.8 -12 L13 -2.5 M-17.5 35 L-12.8 33 M17.5 35 L12.8 33 M-17.6 13 L-13 14 M17.6 13 L13 14 M-14.2 46.8 L-11.2 37 M14.2 46.8 L11.2 37" stroke="#7a5a3a" stroke-width="0.7" fill="none"/><path d="M-12 -43 C-12.5 -34 -14.5 -22 -17.3 -13 M12 -43 C12.5 -34 14.5 -22 17.3 -13" stroke="#7a5a3a" stroke-width="0.55" fill="none"/></g><rect x="-3" y="-7" width="6" height="14" rx="2.7" fill="#161616" transform="translate(-20.7 -28.0) rotate(-25.0)"/><rect x="-3" y="-7" width="6" height="14" rx="2.7" fill="#161616" transform="translate(20.7 -28.0) rotate(-25.0)"/><rect x="-3" y="-7" width="6" height="14" rx="2.7" fill="#161616" transform="translate(-20.7 24.0) rotate(0.0)"/><rect x="-3" y="-7" width="6" height="14" rx="2.7" fill="#161616" transform="translate(20.7 24.0) rotate(0.0)"/></g>
<g transform="translate(909.6 398.6) rotate(-68.5) scale(1.000)"><g transform="translate(0 48.50) scale(1 0.9843) translate(0 -50)"><path d="M-19.5 -12.5 L-26.5 -6.5 L-20 -8.5Z M19.5 -12.5 L26.5 -6.5 L20 -8.5Z" fill="#fff" stroke="#7a5a3a" stroke-width="0.4"/><path d="M-12.5 -45.2 C-18 -44 -21 -39 -21 -30 L-21 44 C-21 48 -18.5 50 -14.5 50 L14.5 50 C18.5 50 21 48 21 44 L21 -30 C21 -39 18 -44 12.5 -45.2 C4 -46.2 -4 -46.2 -12.5 -45.2Z" fill="#f8cf9f" stroke="#7a5a3a" stroke-width="1"/><path d="M-11.5 -43 C-16.5 -41.8 -18.8 -37.5 -18.8 -29.5 L-18.8 43 C-18.8 46.5 -17 47.9 -13.5 47.9 L13.5 47.9 C17 47.9 18.8 46.5 18.8 43 L18.8 -29.5 C18.8 -37.5 16.5 -41.8 11.5 -43 C4 -44 -4 -44 -11.5 -43Z" fill="none" stroke="#7a5a3a" stroke-width="0.55"/><path d="M-17.8 -12 C-11 -23 11 -23 17.8 -12 L17.5 35 L14.2 46.8 L-14.2 46.8 L-17.5 35Z" fill="#fff" stroke="#7a5a3a" stroke-width="0.7"/><path d="M-13 -2.5 C-6 -6 6 -6 13 -2.5 L12.8 33 L11.2 37 L-11.2 37 L-12.8 33Z" fill="#f8cf9f" stroke="#7a5a3a" stroke-width="0.7"/><path d="M-17.8 -12 L-13 -2.5 M17.8 -12 L13 -2.5 M-17.5 35 L-12.8 33 M17.5 35 L12.8 33 M-17.6 13 L-13 14 M17.6 13 L13 14 M-14.2 46.8 L-11.2 37 M14.2 46.8 L11.2 37" stroke="#7a5a3a" stroke-width="0.7" fill="none"/><path d="M-12 -43 C-12.5 -34 -14.5 -22 -17.3 -13 M12 -43 C12.5 -34 14.5 -22 17.3 -13" stroke="#7a5a3a" stroke-width="0.55" fill="none"/></g><rect x="-3" y="-7" width="6" height="14" rx="2.7" fill="#161616" transform="translate(-20.7 -28.0) rotate(-25.0)"/><rect x="-3" y="-7" width="6" height="14" rx="2.7" fill="#161616" transform="translate(20.7 -28.0) rotate(-25.0)"/><rect x="-3" y="-7" width="6" height="14" rx="2.7" fill="#161616" transform="translate(-20.7 24.0) rotate(0.0)"/><rect x="-3" y="-7" width="6" height="14" rx="2.7" fill="#161616" transform="translate(20.7 24.0) rotate(0.0)"/></g>
<g transform="translate(866.0 394.0) rotate(-31.0) scale(1.000)"><g transform="translate(0 50.00) scale(1 0.9791) translate(0 -50)"><path d="M-19.5 -12.5 L-26.5 -6.5 L-20 -8.5Z M19.5 -12.5 L26.5 -6.5 L20 -8.5Z" fill="#fff" stroke="#4b5357" stroke-width="0.4"/><path d="M-12.5 -45.2 C-18 -44 -21 -39 -21 -30 L-21 44 C-21 48 -18.5 50 -14.5 50 L14.5 50 C18.5 50 21 48 21 44 L21 -30 C21 -39 18 -44 12.5 -45.2 C4 -46.2 -4 -46.2 -12.5 -45.2Z" fill="#a9c1c6" stroke="#4b5357" stroke-width="1"/><path d="M-11.5 -43 C-16.5 -41.8 -18.8 -37.5 -18.8 -29.5 L-18.8 43 C-18.8 46.5 -17 47.9 -13.5 47.9 L13.5 47.9 C17 47.9 18.8 46.5 18.8 43 L18.8 -29.5 C18.8 -37.5 16.5 -41.8 11.5 -43 C4 -44 -4 -44 -11.5 -43Z" fill="none" stroke="#4b5357" stroke-width="0.55"/><path d="M-17.8 -12 C-11 -23 11 -23 17.8 -12 L17.5 35 L14.2 46.8 L-14.2 46.8 L-17.5 35Z" fill="#fff" stroke="#4b5357" stroke-width="0.7"/><path d="M-13 -2.5 C-6 -6 6 -6 13 -2.5 L12.8 33 L11.2 37 L-11.2 37 L-12.8 33Z" fill="#a9c1c6" stroke="#4b5357" stroke-width="0.7"/><path d="M-17.8 -12 L-13 -2.5 M17.8 -12 L13 -2.5 M-17.5 35 L-12.8 33 M17.5 35 L12.8 33 M-17.6 13 L-13 14 M17.6 13 L13 14 M-14.2 46.8 L-11.2 37 M14.2 46.8 L11.2 37" stroke="#4b5357" stroke-width="0.7" fill="none"/><path d="M-12 -43 C-12.5 -34 -14.5 -22 -17.3 -13 M12 -43 C12.5 -34 14.5 -22 17.3 -13" stroke="#4b5357" stroke-width="0.55" fill="none"/></g><rect x="-3" y="-7" width="6" height="14" rx="2.7" fill="#161616" transform="translate(-20.7 -28.0) rotate(-32.0)"/><rect x="-3" y="-7" width="6" height="14" rx="2.7" fill="#161616" transform="translate(20.7 -28.0) rotate(-32.0)"/><rect x="-3" y="-7" width="6" height="14" rx="2.7" fill="#161616" transform="translate(-20.7 24.0) rotate(0.0)"/><rect x="-3" y="-7" width="6" height="14" rx="2.7" fill="#161616" transform="translate(20.7 24.0) rotate(0.0)"/></g>
<g transform="translate(906.2 515.2) rotate(-5.7) scale(1.000)"><g transform="translate(0 48.50) scale(1 0.9843) translate(0 -50)"><path d="M-19.5 -12.5 L-26.5 -6.5 L-20 -8.5Z M19.5 -12.5 L26.5 -6.5 L20 -8.5Z" fill="#fff" stroke="#4b5357" stroke-width="0.4"/><path d="M-12.5 -45.2 C-18 -44 -21 -39 -21 -30 L-21 44 C-21 48 -18.5 50 -14.5 50 L14.5 50 C18.5 50 21 48 21 44 L21 -30 C21 -39 18 -44 12.5 -45.2 C4 -46.2 -4 -46.2 -12.5 -45.2Z" fill="#a9c1c6" stroke="#4b5357" stroke-width="1"/><path d="M-11.5 -43 C-16.5 -41.8 -18.8 -37.5 -18.8 -29.5 L-18.8 43 C-18.8 46.5 -17 47.9 -13.5 47.9 L13.5 47.9 C17 47.9 18.8 46.5 18.8 43 L18.8 -29.5 C18.8 -37.5 16.5 -41.8 11.5 -43 C4 -44 -4 -44 -11.5 -43Z" fill="none" stroke="#4b5357" stroke-width="0.55"/><path d="M-17.8 -12 C-11 -23 11 -23 17.8 -12 L17.5 35 L14.2 46.8 L-14.2 46.8 L-17.5 35Z" fill="#fff" stroke="#4b5357" stroke-width="0.7"/><path d="M-13 -2.5 C-6 -6 6 -6 13 -2.5 L12.8 33 L11.2 37 L-11.2 37 L-12.8 33Z" fill="#a9c1c6" stroke="#4b5357" stroke-width="0.7"/><path d="M-17.8 -12 L-13 -2.5 M17.8 -12 L13 -2.5 M-17.5 35 L-12.8 33 M17.5 35 L12.8 33 M-17.6 13 L-13 14 M17.6 13 L13 14 M-14.2 46.8 L-11.2 37 M14.2 46.8 L11.2 37" stroke="#4b5357" stroke-width="0.7" fill="none"/><path d="M-12 -43 C-12.5 -34 -14.5 -22 -17.3 -13 M12 -43 C12.5 -34 14.5 -22 17.3 -13" stroke="#4b5357" stroke-width="0.55" fill="none"/></g><rect x="-3" y="-7" width="6" height="14" rx="2.7" fill="#161616" transform="translate(-20.7 -28.0) rotate(-32.0)"/><rect x="-3" y="-7" width="6" height="14" rx="2.7" fill="#161616" transform="translate(20.7 -28.0) rotate(-32.0)"/><rect x="-3" y="-7" width="6" height="14" rx="2.7" fill="#161616" transform="translate(-20.7 24.0) rotate(0.0)"/><rect x="-3" y="-7" width="6" height="14" rx="2.7" fill="#161616" transform="translate(20.7 24.0) rotate(0.0)"/></g>
<g transform="translate(293.5 506.3) rotate(-29.0) scale(1.000)"><g transform="translate(0 48.50) scale(1 0.9843) translate(0 -50)"><path d="M-19.5 -12.5 L-26.5 -6.5 L-20 -8.5Z M19.5 -12.5 L26.5 -6.5 L20 -8.5Z" fill="#fff" stroke="#4b5357" stroke-width="0.4"/><path d="M-12.5 -45.2 C-18 -44 -21 -39 -21 -30 L-21 44 C-21 48 -18.5 50 -14.5 50 L14.5 50 C18.5 50 21 48 21 44 L21 -30 C21 -39 18 -44 12.5 -45.2 C4 -46.2 -4 -46.2 -12.5 -45.2Z" fill="#a9c1c6" stroke="#4b5357" stroke-width="1"/><path d="M-11.5 -43 C-16.5 -41.8 -18.8 -37.5 -18.8 -29.5 L-18.8 43 C-18.8 46.5 -17 47.9 -13.5 47.9 L13.5 47.9 C17 47.9 18.8 46.5 18.8 43 L18.8 -29.5 C18.8 -37.5 16.5 -41.8 11.5 -43 C4 -44 -4 -44 -11.5 -43Z" fill="none" stroke="#4b5357" stroke-width="0.55"/><path d="M-17.8 -12 C-11 -23 11 -23 17.8 -12 L17.5 35 L14.2 46.8 L-14.2 46.8 L-17.5 35Z" fill="#fff" stroke="#4b5357" stroke-width="0.7"/><path d="M-13 -2.5 C-6 -6 6 -6 13 -2.5 L12.8 33 L11.2 37 L-11.2 37 L-12.8 33Z" fill="#a9c1c6" stroke="#4b5357" stroke-width="0.7"/><path d="M-17.8 -12 L-13 -2.5 M17.8 -12 L13 -2.5 M-17.5 35 L-12.8 33 M17.5 35 L12.8 33 M-17.6 13 L-13 14 M17.6 13 L13 14 M-14.2 46.8 L-11.2 37 M14.2 46.8 L11.2 37" stroke="#4b5357" stroke-width="0.7" fill="none"/><path d="M-12 -43 C-12.5 -34 -14.5 -22 -17.3 -13 M12 -43 C12.5 -34 14.5 -22 17.3 -13" stroke="#4b5357" stroke-width="0.55" fill="none"/></g><rect x="-3" y="-7" width="6" height="14" rx="2.7" fill="#161616" transform="translate(-20.7 -28.0) rotate(0.0)"/><rect x="-3" y="-7" width="6" height="14" rx="2.7" fill="#161616" transform="translate(20.7 -28.0) rotate(0.0)"/><rect x="-3" y="-7" width="6" height="14" rx="2.7" fill="#161616" transform="translate(-20.7 24.0) rotate(0.0)"/><rect x="-3" y="-7" width="6" height="14" rx="2.7" fill="#161616" transform="translate(20.7 24.0) rotate(0.0)"/></g>
<g transform="translate(728.1 506.2) rotate(-29.0) scale(1.000)"><g transform="translate(0 48.50) scale(1 0.9843) translate(0 -50)"><path d="M-19.5 -12.5 L-26.5 -6.5 L-20 -8.5Z M19.5 -12.5 L26.5 -6.5 L20 -8.5Z" fill="#fff" stroke="#4b5357" stroke-width="0.4"/><path d="M-12.5 -45.2 C-18 -44 -21 -39 -21 -30 L-21 44 C-21 48 -18.5 50 -14.5 50 L14.5 50 C18.5 50 21 48 21 44 L21 -30 C21 -39 18 -44 12.5 -45.2 C4 -46.2 -4 -46.2 -12.5 -45.2Z" fill="#a9c1c6" stroke="#4b5357" stroke-width="1"/><path d="M-11.5 -43 C-16.5 -41.8 -18.8 -37.5 -18.8 -29.5 L-18.8 43 C-18.8 46.5 -17 47.9 -13.5 47.9 L13.5 47.9 C17 47.9 18.8 46.5 18.8 43 L18.8 -29.5 C18.8 -37.5 16.5 -41.8 11.5 -43 C4 -44 -4 -44 -11.5 -43Z" fill="none" stroke="#4b5357" stroke-width="0.55"/><path d="M-17.8 -12 C-11 -23 11 -23 17.8 -12 L17.5 35 L14.2 46.8 L-14.2 46.8 L-17.5 35Z" fill="#fff" stroke="#4b5357" stroke-width="0.7"/><path d="M-13 -2.5 C-6 -6 6 -6 13 -2.5 L12.8 33 L11.2 37 L-11.2 37 L-12.8 33Z" fill="#a9c1c6" stroke="#4b5357" stroke-width="0.7"/><path d="M-17.8 -12 L-13 -2.5 M17.8 -12 L13 -2.5 M-17.5 35 L-12.8 33 M17.5 35 L12.8 33 M-17.6 13 L-13 14 M17.6 13 L13 14 M-14.2 46.8 L-11.2 37 M14.2 46.8 L11.2 37" stroke="#4b5357" stroke-width="0.7" fill="none"/><path d="M-12 -43 C-12.5 -34 -14.5 -22 -17.3 -13 M12 -43 C12.5 -34 14.5 -22 17.3 -13" stroke="#4b5357" stroke-width="0.55" fill="none"/></g><rect x="-3" y="-7" width="6" height="14" rx="2.7" fill="#161616" transform="translate(-20.7 -28.0) rotate(0.0)"/><rect x="-3" y="-7" width="6" height="14" rx="2.7" fill="#161616" transform="translate(20.7 -28.0) rotate(0.0)"/><rect x="-3" y="-7" width="6" height="14" rx="2.7" fill="#161616" transform="translate(-20.7 24.0) rotate(0.0)"/><rect x="-3" y="-7" width="6" height="14" rx="2.7" fill="#161616" transform="translate(20.7 24.0) rotate(0.0)"/></g>
<path d="M505.5 590.9 L505.4 587.6 L505.4 584.3 L505.3 581.1 L505.2 577.8 L505.1 574.5 L505.1 571.2 L505.0 567.9 L504.8 564.6 L504.7 561.4 L504.6 558.1 L504.5 554.8 L504.3 551.5 L504.2 548.2 L504.0 545.0 L503.8 541.7 L503.7 538.4 L503.5 535.2 L503.3 531.9 L503.1 528.6 L502.8 525.4 L502.6 522.1 L502.4 518.8 L502.1 515.6 L501.8 512.3 L501.6 509.1 L501.3 505.8 L501.0 502.6 L500.6 499.3 L500.3 496.1 L500.0 492.8 L499.6 489.6 L499.2 486.3 L498.9 483.1 L498.5 479.8 L498.0 476.6 L497.6 473.3 L497.2 470.1 L496.7 466.8 L496.3 463.6 L495.8 460.4 L495.3 457.1 L494.7 453.9 L494.2 450.6 L493.7 447.4 L493.1 444.2 L492.5 440.9 L491.9 437.7 L491.3 434.5 L490.7 431.2 L490.0 428.0 L489.3 424.8 L488.6 421.5 L487.9 418.3 L487.2 415.1 L486.5 411.9 L485.7 408.6 L484.9 405.4 L484.1 402.2 L483.3 399.0 L482.4 395.7 L481.6 392.5 L480.7 389.3 L479.8 386.1 L478.8 382.9 L477.9 379.7 L476.9 376.5 L475.9 373.3 L474.8 370.2 L473.8 367.0 L472.7 363.9 L471.5 360.7 L470.4 357.6 L469.2 354.5 L468.0 351.4 L466.8 348.3 L465.5 345.2 L464.2 342.2 L462.9 339.1 L461.6 336.1 L460.2 333.1 L458.7 330.1 L457.3 327.1 L455.8 324.2 L454.3 321.3 L452.7 318.3 L451.1 315.5 L449.4 312.6 L447.8 309.8 L446.0 307.0 L444.3 304.2 L442.5 301.4 L440.6 298.7 L438.7 296.0 L436.8 293.3 L434.8 290.7 L432.8 288.0 L430.8 285.5 L428.7 282.9 L426.5 280.4 L424.3 277.9 L422.1 275.5 L419.8 273.1 L417.5 270.7 L415.2 268.4 L412.8 266.1 L410.4 263.8 L407.9 261.6 L405.4 259.4 L402.9 257.2 L400.4 255.1 L397.8 253.0 L395.2 251.0 L392.5 248.9 L389.8 247.0 L387.1 245.0 L384.4 243.1 L381.6 241.2 L378.9 239.4 L376.1 237.6 L373.2 235.9 L370.3 234.1 L367.5 232.5 L364.5 230.9 L361.6 229.3 L358.6 227.7 L355.7 226.2 L352.7 224.7 L349.7 223.3 L346.6 221.9 L343.6 220.5 L340.5 219.2 L337.5 217.9 L334.4 216.7 L331.3 215.5 L328.2 214.3 L325.0 213.2 L321.9 212.1 L318.8 211.0 L315.6 210.0 L312.5 209.0 L309.3 208.0 L306.1 207.1 L302.9 206.1 L299.7 205.3 L296.5 204.4 L293.3 203.6 L290.1 202.8 L286.9 202.1 L283.7 201.3 L280.5 200.6 L277.3 199.9 L274.1 199.2 L270.9 198.6 L267.6 197.9 L264.4 197.3 L261.2 196.7 L258.0 196.2 L254.8 195.6 L251.6 195.1 L251.2 188.3 L223.8 198.0 L250.8 208.7 L250.4 201.9 L253.5 202.5 L256.7 203.2 L259.9 203.8 L263.0 204.4 L266.2 205.1 L269.3 205.8 L272.5 206.5 L275.7 207.2 L278.8 208.0 L282.0 208.7 L285.1 209.5 L288.2 210.3 L291.4 211.2 L294.5 212.0 L297.6 212.9 L300.7 213.8 L303.8 214.8 L306.9 215.7 L310.0 216.7 L313.1 217.7 L316.1 218.7 L319.2 219.8 L322.2 220.9 L325.3 222.0 L328.3 223.2 L331.3 224.4 L334.3 225.7 L337.2 226.9 L340.2 228.2 L343.1 229.6 L346.0 231.0 L348.9 232.4 L351.8 233.8 L354.7 235.3 L357.5 236.9 L360.3 238.4 L363.1 240.0 L365.9 241.7 L368.6 243.3 L371.4 245.1 L374.1 246.8 L376.8 248.5 L379.4 250.3 L382.1 252.2 L384.7 254.1 L387.3 256.0 L389.8 257.9 L392.3 259.9 L394.8 261.9 L397.3 263.9 L399.7 266.0 L402.1 268.1 L404.4 270.2 L406.8 272.4 L409.1 274.6 L411.3 276.9 L413.5 279.1 L415.7 281.4 L417.8 283.8 L419.9 286.1 L422.0 288.5 L424.0 291.0 L426.0 293.4 L427.9 295.9 L429.8 298.4 L431.7 301.0 L433.5 303.6 L435.3 306.2 L437.1 308.8 L438.8 311.5 L440.5 314.2 L442.1 316.9 L443.7 319.7 L445.3 322.4 L446.8 325.2 L448.3 328.1 L449.8 330.9 L451.2 333.8 L452.7 336.7 L454.0 339.6 L455.4 342.5 L456.7 345.4 L458.0 348.4 L459.2 351.4 L460.4 354.4 L461.6 357.4 L462.8 360.4 L463.9 363.5 L465.0 366.6 L466.1 369.6 L467.2 372.7 L468.2 375.8 L469.2 378.9 L470.1 382.1 L471.1 385.2 L472.0 388.3 L472.9 391.5 L473.8 394.6 L474.7 397.8 L475.5 401.0 L476.3 404.2 L477.1 407.3 L477.9 410.5 L478.6 413.7 L479.4 416.9 L480.1 420.1 L480.8 423.2 L481.5 426.4 L482.2 429.6 L482.8 432.8 L483.4 436.0 L484.1 439.2 L484.6 442.4 L485.2 445.6 L485.8 448.8 L486.3 452.0 L486.9 455.2 L487.4 458.4 L487.9 461.6 L488.4 464.8 L488.8 468.0 L489.3 471.2 L489.7 474.4 L490.2 477.6 L490.6 480.8 L491.0 484.0 L491.4 487.2 L491.7 490.4 L492.1 493.7 L492.4 496.9 L492.8 500.1 L493.1 503.3 L493.4 506.5 L493.7 509.8 L494.0 513.0 L494.2 516.2 L494.5 519.5 L494.7 522.7 L495.0 525.9 L495.2 529.2 L495.4 532.4 L495.6 535.6 L495.8 538.9 L496.0 542.1 L496.2 545.4 L496.3 548.6 L496.5 551.9 L496.6 555.1 L496.8 558.4 L496.9 561.6 L497.0 564.9 L497.1 568.2 L497.2 571.4 L497.3 574.7 L497.4 578.0 L497.5 581.2 L497.6 584.5 L497.6 587.8 L497.7 591.1 Z" fill="#ed1c24"/>
<path d="M504.2 591.8 L504.1 588.7 L503.9 585.6 L503.7 582.5 L503.5 579.4 L503.3 576.4 L503.1 573.3 L502.9 570.2 L502.6 567.1 L502.4 564.0 L502.1 561.0 L501.8 557.9 L501.5 554.8 L501.2 551.8 L500.9 548.7 L500.5 545.6 L500.2 542.6 L499.8 539.5 L499.4 536.5 L499.0 533.4 L498.6 530.4 L498.2 527.3 L497.8 524.3 L497.3 521.2 L496.9 518.2 L496.4 515.1 L495.9 512.1 L495.4 509.1 L494.9 506.0 L494.3 503.0 L493.8 500.0 L493.2 497.0 L492.6 493.9 L492.0 490.9 L491.4 487.9 L490.7 484.9 L490.1 481.9 L489.4 478.9 L488.7 475.9 L488.0 472.9 L487.2 469.9 L486.5 466.9 L485.7 463.9 L484.9 460.9 L484.1 457.9 L483.3 455.0 L482.5 452.0 L481.6 449.0 L480.7 446.0 L479.8 443.1 L478.9 440.1 L477.9 437.2 L477.0 434.2 L476.0 431.3 L475.0 428.3 L473.9 425.4 L472.9 422.5 L471.8 419.6 L470.7 416.6 L469.6 413.7 L468.5 410.8 L467.4 408.0 L466.2 405.1 L465.0 402.2 L463.8 399.3 L462.6 396.5 L461.3 393.7 L460.1 390.8 L458.8 388.0 L457.5 385.2 L456.1 382.4 L454.8 379.6 L453.4 376.9 L452.0 374.1 L450.6 371.4 L449.1 368.7 L447.6 366.0 L446.1 363.3 L444.5 360.6 L442.9 357.9 L441.2 355.3 L439.5 352.7 L437.7 350.1 L435.9 347.5 L434.1 345.0 L432.2 342.5 L430.4 340.0 L428.4 337.5 L426.5 335.1 L424.5 332.6 L422.5 330.2 L420.5 327.8 L418.4 325.5 L416.3 323.2 L414.1 320.9 L411.9 318.6 L409.7 316.4 L407.4 314.3 L405.0 312.2 L402.6 310.2 L400.1 308.2 L397.6 306.3 L395.0 304.5 L392.4 302.8 L389.8 301.1 L387.1 299.4 L384.5 297.9 L381.8 296.3 L379.1 294.8 L376.4 293.3 L373.7 291.8 L370.9 290.3 L368.2 288.9 L365.5 287.4 L362.7 286.0 L359.9 284.6 L357.1 283.2 L354.3 281.8 L351.5 280.5 L348.7 279.2 L345.9 277.9 L343.0 276.7 L340.1 275.4 L337.3 274.3 L334.4 273.1 L331.5 272.0 L328.6 270.9 L325.6 269.8 L322.7 268.8 L319.7 267.8 L316.8 266.9 L313.8 266.0 L310.8 265.1 L307.8 264.3 L304.9 263.4 L301.8 262.7 L298.8 261.9 L295.8 261.2 L292.8 260.5 L289.8 259.9 L286.7 259.3 L283.7 258.7 L280.6 258.1 L277.5 257.6 L274.5 257.2 L271.4 256.7 L268.3 256.3 L265.2 256.0 L262.2 255.6 L259.1 255.4 L256.0 255.1 L252.9 254.9 L249.7 254.7 L246.6 254.6 L243.5 254.5 L240.4 254.4 L237.3 254.4 L234.2 254.4 L231.1 254.4 L228.0 254.5 L228.3 247.8 L199.8 257.2 L227.7 268.2 L228.0 261.5 L231.1 261.5 L234.1 261.5 L237.2 261.6 L240.2 261.7 L243.2 261.8 L246.3 262.0 L249.3 262.2 L252.3 262.4 L255.3 262.7 L258.3 263.0 L261.3 263.3 L264.3 263.7 L267.3 264.1 L270.3 264.5 L273.3 264.9 L276.3 265.4 L279.2 265.9 L282.2 266.5 L285.2 267.1 L288.1 267.7 L291.0 268.3 L294.0 269.0 L296.9 269.8 L299.8 270.5 L302.7 271.3 L305.6 272.1 L308.5 272.9 L311.4 273.8 L314.3 274.7 L317.1 275.7 L320.0 276.7 L322.8 277.7 L325.7 278.7 L328.5 279.8 L331.3 280.9 L334.1 282.0 L336.9 283.1 L339.7 284.3 L342.5 285.6 L345.2 286.8 L348.0 288.1 L350.7 289.4 L353.4 290.7 L356.1 292.1 L358.9 293.5 L361.6 294.9 L364.2 296.3 L366.9 297.8 L369.6 299.2 L372.3 300.7 L374.9 302.2 L377.6 303.7 L380.2 305.2 L382.7 306.7 L385.3 308.3 L387.7 309.9 L390.2 311.5 L392.6 313.2 L394.9 315.0 L397.2 316.8 L399.4 318.7 L401.6 320.6 L403.7 322.6 L405.8 324.7 L407.9 326.9 L409.9 329.0 L411.9 331.3 L413.8 333.6 L415.7 335.9 L417.6 338.2 L419.5 340.6 L421.4 343.0 L423.2 345.4 L425.0 347.9 L426.7 350.3 L428.5 352.8 L430.2 355.3 L431.8 357.7 L433.4 360.3 L435.0 362.8 L436.5 365.3 L437.9 367.9 L439.4 370.5 L440.8 373.1 L442.2 375.8 L443.5 378.5 L444.9 381.2 L446.2 383.9 L447.5 386.6 L448.8 389.3 L450.1 392.0 L451.4 394.8 L452.6 397.5 L453.9 400.3 L455.1 403.1 L456.3 405.9 L457.5 408.7 L458.6 411.5 L459.8 414.3 L460.9 417.1 L462.0 420.0 L463.1 422.8 L464.1 425.7 L465.2 428.5 L466.2 431.4 L467.2 434.3 L468.2 437.2 L469.1 440.0 L470.1 442.9 L471.0 445.8 L471.9 448.7 L472.8 451.6 L473.7 454.5 L474.6 457.5 L475.4 460.4 L476.2 463.3 L477.1 466.2 L477.8 469.1 L478.6 472.1 L479.4 475.0 L480.1 477.9 L480.8 480.9 L481.5 483.8 L482.2 486.8 L482.9 489.7 L483.5 492.7 L484.2 495.7 L484.8 498.6 L485.4 501.6 L486.0 504.6 L486.5 507.6 L487.1 510.5 L487.6 513.5 L488.1 516.5 L488.7 519.5 L489.1 522.5 L489.6 525.5 L490.1 528.5 L490.5 531.5 L490.9 534.5 L491.4 537.5 L491.8 540.5 L492.1 543.6 L492.5 546.6 L492.9 549.6 L493.2 552.6 L493.5 555.7 L493.9 558.7 L494.2 561.7 L494.5 564.8 L494.7 567.8 L495.0 570.8 L495.3 573.9 L495.5 576.9 L495.7 580.0 L496.0 583.0 L496.2 586.1 L496.4 589.2 L496.6 592.2 Z" fill="#27a7e0"/>
<path transform="translate(369.3 270.7) rotate(13.5)" d="M0 -1.5 L22.2 -2.1 L22.2 -6 L37.7 0 L22.2 6 L22.2 2.1 L0 1.5 A1.5 1.5 0 0 1 0 -1.5Z" fill="#ed1c24"/>
<path transform="translate(352.0 306.7) rotate(16.4)" d="M0 -1.5 L22.0 -2.1 L22.0 -6 L37.5 0 L22.0 6 L22.0 2.1 L0 1.5 A1.5 1.5 0 0 1 0 -1.5Z" fill="#ed1c24"/>
<path transform="translate(420.9 302.9) rotate(36.1)" d="M0 -1.5 L11.8 -2.1 L11.8 -6 L27.3 0 L11.8 6 L11.8 2.1 L0 1.5 A1.5 1.5 0 0 1 0 -1.5Z" fill="#ed1c24"/>
<path transform="translate(397.8 330.4) rotate(29.6)" d="M0 -1.5 L23.0 -2.1 L23.0 -6 L38.5 0 L23.0 6 L23.0 2.1 L0 1.5 A1.5 1.5 0 0 1 0 -1.5Z" fill="#ed1c24"/>
<path transform="translate(456.4 357.1) rotate(31.5)" d="M0 -1.5 L22.0 -2.1 L22.0 -6 L37.5 0 L22.0 6 L22.0 2.1 L0 1.5 A1.5 1.5 0 0 1 0 -1.5Z" fill="#ed1c24"/>
<path transform="translate(422.7 377.6) rotate(32.6)" d="M0 -1.5 L24.3 -2.1 L24.3 -6 L39.8 0 L24.3 6 L24.3 2.1 L0 1.5 A1.5 1.5 0 0 1 0 -1.5Z" fill="#ed1c24"/>
<path transform="translate(452.0 422.0) rotate(57.7)" d="M0 -1.5 L20.0 -2.1 L20.0 -6 L35.5 0 L20.0 6 L20.0 2.1 L0 1.5 A1.5 1.5 0 0 1 0 -1.5Z" fill="#ed1c24"/>
<path d="M909.2 590.8 L909.1 587.8 L909.0 584.8 L908.8 581.8 L908.6 578.7 L908.4 575.7 L908.3 572.7 L908.1 569.6 L907.8 566.6 L907.6 563.5 L907.4 560.5 L907.1 557.4 L906.9 554.4 L906.6 551.3 L906.3 548.2 L906.0 545.2 L905.7 542.1 L905.4 539.0 L905.1 536.0 L904.7 532.9 L904.4 529.9 L904.0 526.8 L903.6 523.7 L903.2 520.7 L902.8 517.6 L902.4 514.5 L901.9 511.5 L901.4 508.4 L900.9 505.3 L900.4 502.3 L899.9 499.2 L899.4 496.2 L898.8 493.1 L898.3 490.1 L897.7 487.1 L897.0 484.0 L896.4 481.0 L895.8 478.0 L895.1 474.9 L894.4 471.9 L893.7 468.9 L892.9 465.9 L892.2 462.9 L891.4 459.9 L890.6 456.9 L889.8 454.0 L888.9 451.0 L888.1 448.0 L887.2 445.1 L886.3 442.1 L885.3 439.2 L884.4 436.2 L883.4 433.3 L882.4 430.4 L881.4 427.5 L880.3 424.6 L879.2 421.7 L878.1 418.8 L877.0 416.0 L875.8 413.1 L874.6 410.3 L873.4 407.4 L872.2 404.6 L870.9 401.8 L869.6 399.0 L868.3 396.2 L866.9 393.5 L865.6 390.7 L864.2 388.0 L862.7 385.2 L861.3 382.5 L859.8 379.8 L858.2 377.1 L856.7 374.4 L855.1 371.8 L853.5 369.1 L851.8 366.5 L850.1 363.9 L848.4 361.3 L846.7 358.7 L844.9 356.2 L843.1 353.7 L841.3 351.2 L839.4 348.7 L837.6 346.2 L835.7 343.8 L833.7 341.3 L831.7 338.9 L829.7 336.6 L827.7 334.2 L825.7 331.9 L823.6 329.6 L821.5 327.3 L819.3 325.1 L817.1 322.8 L814.9 320.7 L812.7 318.5 L810.5 316.4 L808.2 314.3 L805.9 312.2 L803.5 310.1 L801.2 308.1 L798.8 306.2 L796.4 304.2 L793.9 302.3 L791.5 300.4 L789.0 298.6 L786.4 296.8 L783.9 295.0 L781.3 293.3 L778.7 291.6 L776.1 289.9 L773.5 288.3 L770.8 286.7 L768.1 285.2 L765.4 283.7 L762.6 282.2 L759.9 280.8 L757.1 279.4 L754.3 278.0 L751.5 276.7 L748.7 275.4 L745.8 274.2 L742.9 273.0 L740.1 271.8 L737.2 270.7 L734.2 269.6 L731.3 268.5 L728.4 267.5 L725.4 266.5 L722.4 265.6 L719.4 264.7 L716.4 263.8 L713.4 263.0 L710.4 262.2 L707.4 261.4 L704.3 260.7 L701.3 260.0 L698.3 259.4 L695.2 258.8 L692.1 258.2 L689.0 257.7 L686.0 257.2 L682.9 256.7 L679.8 256.3 L676.7 255.9 L673.6 255.5 L670.5 255.2 L667.4 254.9 L664.3 254.7 L661.2 254.5 L658.1 254.3 L655.0 254.2 L651.9 254.1 L648.8 254.0 L645.7 254.0 L642.6 254.0 L639.5 254.0 L636.5 254.1 L633.4 254.2 L633.8 247.5 L605.3 256.9 L633.2 267.9 L633.6 261.2 L636.6 261.2 L639.6 261.1 L642.6 261.2 L645.6 261.2 L648.6 261.3 L651.6 261.4 L654.7 261.6 L657.7 261.8 L660.7 262.0 L663.7 262.3 L666.7 262.6 L669.7 262.9 L672.7 263.2 L675.7 263.6 L678.7 264.0 L681.7 264.5 L684.7 265.0 L687.7 265.5 L690.7 266.0 L693.6 266.6 L696.6 267.2 L699.6 267.9 L702.5 268.6 L705.4 269.3 L708.4 270.1 L711.3 270.9 L714.2 271.7 L717.1 272.5 L720.0 273.4 L722.8 274.4 L725.7 275.3 L728.5 276.3 L731.4 277.4 L734.2 278.4 L737.0 279.5 L739.8 280.6 L742.5 281.8 L745.3 283.0 L748.0 284.2 L750.7 285.5 L753.4 286.8 L756.1 288.2 L758.8 289.5 L761.4 291.0 L764.0 292.4 L766.6 293.9 L769.2 295.4 L771.7 297.0 L774.3 298.6 L776.8 300.2 L779.2 301.8 L781.7 303.5 L784.1 305.3 L786.5 307.0 L788.9 308.8 L791.3 310.7 L793.6 312.6 L795.9 314.5 L798.2 316.4 L800.4 318.4 L802.6 320.4 L804.8 322.4 L807.0 324.4 L809.2 326.5 L811.3 328.6 L813.4 330.8 L815.5 332.9 L817.5 335.1 L819.5 337.4 L821.5 339.6 L823.5 341.9 L825.4 344.2 L827.3 346.5 L829.2 348.9 L831.1 351.2 L832.9 353.6 L834.7 356.0 L836.5 358.5 L838.2 360.9 L839.9 363.4 L841.6 365.9 L843.3 368.4 L844.9 370.9 L846.5 373.5 L848.1 376.0 L849.6 378.6 L851.2 381.2 L852.6 383.8 L854.1 386.4 L855.5 389.1 L856.9 391.7 L858.3 394.4 L859.6 397.1 L861.0 399.8 L862.3 402.5 L863.5 405.2 L864.8 407.9 L866.0 410.7 L867.2 413.4 L868.3 416.2 L869.5 419.0 L870.6 421.8 L871.6 424.6 L872.7 427.4 L873.7 430.2 L874.8 433.1 L875.7 435.9 L876.7 438.8 L877.6 441.7 L878.6 444.5 L879.5 447.4 L880.3 450.3 L881.2 453.2 L882.0 456.1 L882.8 459.1 L883.6 462.0 L884.4 464.9 L885.1 467.9 L885.9 470.8 L886.6 473.8 L887.2 476.7 L887.9 479.7 L888.6 482.7 L889.2 485.7 L889.8 488.6 L890.4 491.6 L891.0 494.6 L891.5 497.6 L892.1 500.6 L892.6 503.6 L893.1 506.6 L893.6 509.6 L894.1 512.7 L894.5 515.7 L895.0 518.7 L895.4 521.7 L895.8 524.7 L896.2 527.8 L896.6 530.8 L897.0 533.8 L897.4 536.9 L897.7 539.9 L898.0 542.9 L898.4 545.9 L898.7 549.0 L899.0 552.0 L899.2 555.0 L899.5 558.1 L899.8 561.1 L900.0 564.1 L900.2 567.1 L900.5 570.1 L900.7 573.2 L900.9 576.2 L901.1 579.2 L901.3 582.2 L901.4 585.2 L901.6 588.2 L901.8 591.2 Z" fill="#27a7e0"/>
<path d="M912.8 589.7 L912.9 586.9 L913.1 584.2 L913.2 581.4 L913.3 578.7 L913.5 575.9 L913.6 573.1 L913.7 570.4 L913.9 567.6 L914.0 564.8 L914.1 562.0 L914.2 559.2 L914.3 556.4 L914.4 553.6 L914.5 550.8 L914.6 548.0 L914.7 545.1 L914.8 542.3 L914.8 539.5 L914.9 536.7 L914.9 533.8 L915.0 531.0 L915.0 528.2 L915.0 525.3 L915.1 522.5 L915.1 519.7 L915.1 516.8 L915.0 514.0 L915.0 511.1 L915.0 508.3 L914.9 505.4 L914.8 502.6 L914.8 499.8 L914.7 496.9 L914.6 494.1 L914.4 491.2 L914.3 488.4 L914.1 485.6 L914.0 482.7 L913.8 479.9 L913.6 477.0 L913.3 474.2 L913.1 471.4 L912.8 468.6 L912.5 465.7 L912.2 462.9 L911.9 460.1 L911.6 457.3 L911.2 454.5 L910.8 451.7 L910.4 448.9 L910.0 446.1 L909.5 443.3 L909.0 440.5 L908.5 437.7 L908.0 434.9 L907.4 432.2 L906.9 429.4 L906.3 426.6 L905.6 423.9 L905.0 421.1 L904.3 418.4 L903.6 415.7 L902.9 413.0 L902.1 410.2 L901.3 407.5 L900.5 404.8 L899.6 402.2 L898.8 399.5 L897.8 396.8 L896.9 394.1 L895.9 391.5 L894.9 388.8 L893.9 386.2 L892.8 383.6 L891.7 381.0 L890.6 378.4 L889.4 375.8 L888.2 373.2 L887.0 370.6 L885.7 368.1 L884.4 365.5 L883.0 363.0 L881.6 360.5 L880.2 358.0 L878.8 355.5 L877.3 353.0 L875.7 350.6 L874.1 348.1 L872.5 345.7 L870.8 343.3 L869.1 341.0 L867.3 338.7 L865.5 336.4 L863.6 334.2 L861.7 332.0 L859.7 329.9 L857.6 327.8 L855.5 325.8 L853.3 323.8 L851.1 321.9 L848.8 320.1 L846.5 318.3 L844.1 316.7 L841.6 315.1 L839.0 313.6 L836.4 312.1 L833.7 310.8 L831.0 309.6 L828.2 308.5 L825.4 307.5 L822.5 306.6 L819.6 305.9 L816.6 305.2 L813.7 304.8 L810.7 304.4 L807.7 304.3 L804.7 304.3 L801.7 304.5 L798.7 304.8 L795.8 305.4 L792.9 306.0 L790.1 306.8 L787.3 307.7 L784.6 308.7 L781.9 309.7 L779.3 310.9 L776.6 312.1 L774.0 313.4 L771.4 314.7 L768.9 316.1 L766.4 317.6 L763.9 319.1 L761.4 320.6 L759.0 322.3 L756.6 323.9 L754.2 325.6 L751.8 327.4 L749.5 329.2 L747.3 331.0 L745.0 332.8 L742.8 334.7 L740.6 336.6 L738.5 338.5 L736.4 340.5 L734.3 342.5 L732.3 344.5 L730.3 346.5 L728.4 348.5 L726.5 350.6 L724.6 352.7 L722.7 354.8 L720.9 357.0 L719.2 359.3 L717.5 361.6 L715.8 364.0 L714.3 366.4 L712.7 369.0 L711.3 371.6 L709.9 374.2 L704.0 371.1 L700.7 399.2 L722.0 380.6 L716.1 377.5 L717.5 375.0 L718.9 372.6 L720.4 370.4 L721.9 368.1 L723.5 366.0 L725.1 363.9 L726.8 361.8 L728.5 359.8 L730.3 357.9 L732.2 355.9 L734.0 354.0 L736.0 352.1 L737.9 350.3 L739.9 348.4 L742.0 346.5 L744.0 344.7 L746.1 342.9 L748.2 341.1 L750.4 339.3 L752.5 337.5 L754.7 335.8 L756.9 334.1 L759.2 332.5 L761.4 330.9 L763.7 329.3 L766.0 327.8 L768.3 326.3 L770.7 324.9 L773.1 323.6 L775.4 322.3 L777.9 321.1 L780.3 319.9 L782.7 318.8 L785.2 317.8 L787.7 316.9 L790.1 316.0 L792.6 315.2 L795.1 314.5 L797.6 314.0 L800.0 313.5 L802.5 313.3 L804.9 313.1 L807.4 313.2 L810.0 313.3 L812.5 313.6 L815.0 314.0 L817.6 314.5 L820.1 315.2 L822.6 315.9 L825.1 316.8 L827.6 317.8 L830.0 318.8 L832.4 320.0 L834.7 321.3 L837.0 322.6 L839.2 324.0 L841.3 325.5 L843.5 327.1 L845.5 328.7 L847.5 330.4 L849.5 332.2 L851.4 334.1 L853.3 336.0 L855.2 337.9 L856.9 339.9 L858.7 342.0 L860.4 344.1 L862.1 346.3 L863.7 348.5 L865.3 350.7 L866.8 353.0 L868.4 355.3 L869.8 357.6 L871.3 360.0 L872.7 362.4 L874.0 364.8 L875.4 367.2 L876.7 369.6 L877.9 372.0 L879.2 374.5 L880.4 376.9 L881.5 379.4 L882.7 381.9 L883.8 384.4 L884.8 386.9 L885.9 389.4 L886.9 392.0 L887.8 394.5 L888.8 397.1 L889.7 399.6 L890.6 402.2 L891.4 404.8 L892.3 407.4 L893.1 410.0 L893.9 412.6 L894.6 415.2 L895.3 417.9 L896.0 420.5 L896.7 423.2 L897.3 425.8 L897.9 428.5 L898.5 431.2 L899.1 433.9 L899.6 436.6 L900.2 439.3 L900.7 442.0 L901.1 444.7 L901.6 447.4 L902.0 450.1 L902.4 452.9 L902.8 455.6 L903.2 458.4 L903.5 461.1 L903.8 463.9 L904.1 466.6 L904.4 469.4 L904.7 472.2 L905.0 474.9 L905.2 477.7 L905.4 480.5 L905.6 483.3 L905.8 486.1 L906.0 488.9 L906.1 491.6 L906.3 494.4 L906.4 497.2 L906.5 500.0 L906.6 502.8 L906.7 505.7 L906.8 508.5 L906.9 511.3 L906.9 514.1 L906.9 516.9 L907.0 519.7 L907.0 522.5 L907.0 525.3 L907.0 528.1 L907.0 530.9 L906.9 533.7 L906.9 536.5 L906.9 539.3 L906.8 542.1 L906.8 544.9 L906.7 547.7 L906.6 550.5 L906.6 553.3 L906.5 556.1 L906.4 558.9 L906.3 561.7 L906.2 564.5 L906.1 567.3 L906.0 570.0 L905.9 572.8 L905.8 575.6 L905.7 578.3 L905.6 581.1 L905.4 583.8 L905.3 586.6 L905.2 589.3 Z" fill="#ed1c24"/>
<path d="M336.3 513.0 A41.5 41.5 0 1 0 253.3 515.1" fill="none" stroke="#ed1c24" stroke-width="4.4"/><circle cx="336.3" cy="513.0" r="2.2" fill="#ed1c24"/><polygon points="258.1,530.0 246.6,515.8 263.4,511.3" fill="#ed1c24"/>
<path d="M720.0 547.4 A40.9 40.9 0 1 1 749.3 471.1" fill="none" stroke="#ed1c24" stroke-width="4.4"/><circle cx="720.0" cy="547.4" r="2.2" fill="#ed1c24"/><polygon points="763.6,482.0 752.9,465.1 743.1,478.4" fill="#ed1c24"/></svg>
<div class="t h" style="left:260px;top:87.4px;letter-spacing:0.6px">Front wheel skid control</div>
<div class="t h" style="left:684.2px;top:87.4px;letter-spacing:0.46px">Rear wheel skid control</div>
<div class="t l" style="left:160.5px;top:426.7px;letter-spacing:0.5px">Inward moment</div>
<div class="t l" style="left:613.2px;top:426.8px;letter-spacing:0.5px">Outward moment</div>
</body></html>
